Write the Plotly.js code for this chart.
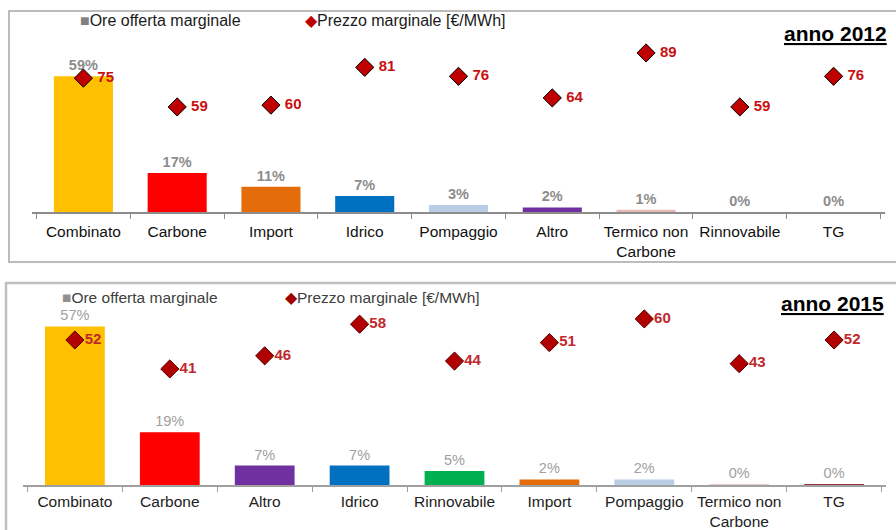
<!DOCTYPE html>
<html>
<head>
<meta charset="utf-8">
<script src="https://cdn.plot.ly/plotly-3.0.1.min.js"></script>
<style>html,body{margin:0;padding:0;background:#fff;}#chart{width:896px;height:530px;}</style>
</head>
<body>
<div id="chart"></div>
<script>
// ---- data ----
const categories2012 = ['Combinato','Carbone','Import','Idrico','Pompaggio','Altro','Termico non<br>Carbone','Rinnovabile','TG'];
const ore2012 = [59, 17, 11, 7, 3, 2, 1, 0, 0];
const prezzo2012 = [75, 59, 60, 81, 76, 64, 89, 59, 76];
const colors2012 = ['#FFC000','#FF0000','#E46C0A','#0070C0','#B9CDE5','#7030A0','#E6B9B8','#00B050','#953735'];

const categories2015 = ['Combinato','Carbone','Altro','Idrico','Rinnovabile','Import','Pompaggio','Termico non<br>Carbone','TG'];
const ore2015 = [57, 19, 7, 7, 5, 2, 2, 0.3, 0.4];
const prezzo2015 = [52, 41, 46, 58, 44, 51, 60, 43, 52];
const colors2015 = ['#FFC000','#FF0000','#7030A0','#0070C0','#00B050','#E46C0A','#B9CDE5','#E6B9B8','#953735'];

const legendBar = 'Ore offerta marginale';
const legendPrice = 'Prezzo marginale [€/MWh]';
const titles = ['anno 2012', 'anno 2015'];

// ---- layout helpers ----
const W = 896, H = 530;
const px = x => x / W;
const py = y => 1 - y / H;
const FONT = 'Liberation Sans, Arial, sans-serif';

const pctText = arr => arr.map(v => Math.round(v) + '%');

const traces = [
  {
    type: 'bar', x: categories2012, y: ore2012, xaxis: 'x', yaxis: 'y',
    marker: { color: colors2012 },
    text: pctText(ore2012), textposition: 'outside', cliponaxis: false, constraintext: 'none',
    textfont: { family: FONT, size: 14.5, color: '#8C8C8C', weight: 'bold' },
    showlegend: false, hoverinfo: 'skip'
  },
  {
    type: 'scatter', mode: 'markers+text', x: categories2012, y: prezzo2012, xaxis: 'x', yaxis: 'y2',
    marker: { symbol: 'diamond', size: 14, color: '#C00000', line: { color: '#000', width: 1 } },
    text: prezzo2012.map(v => '\u00a0' + v), textposition: 'middle right', cliponaxis: false,
    textfont: { family: FONT, size: 15, color: '#C81010', weight: 'bold' },
    showlegend: false, hoverinfo: 'skip'
  },
  {
    type: 'bar', x: categories2015, y: ore2015, xaxis: 'x2', yaxis: 'y3',
    marker: { color: colors2015 },
    text: pctText(ore2015), textposition: 'outside', cliponaxis: false, constraintext: 'none',
    textfont: { family: FONT, size: 14.5, color: '#A0A0A0' },
    showlegend: false, hoverinfo: 'skip'
  },
  {
    type: 'scatter', mode: 'markers+text', x: categories2015, y: prezzo2015, xaxis: 'x2', yaxis: 'y4',
    marker: { symbol: 'diamond', size: 14, color: '#B00000', line: { color: '#5A0000', width: 1 } },
    text: prezzo2015.map(v => String(v)), textposition: 'middle right', cliponaxis: false,
    textfont: { family: FONT, size: 15, color: '#C0282D', weight: 'bold' },
    showlegend: false, hoverinfo: 'skip'
  }
];

const xCommon = {
  type: 'category', tickson: 'boundaries', ticks: 'outside', ticklen: 5, tickwidth: 1,
  showline: true, linewidth: 2, showgrid: false, zeroline: false, fixedrange: true
};
const hiddenY = { visible: false, showgrid: false, zeroline: false, fixedrange: true };

const layout = {
  width: W, height: H,
  margin: { l: 0, r: 0, t: 0, b: 0 },
  paper_bgcolor: '#fff', plot_bgcolor: 'rgba(0,0,0,0)',
  showlegend: false, barmode: 'overlay', bargap: 0.37,
  font: { family: FONT },
  xaxis: Object.assign({}, xCommon, {
    domain: [px(32), px(885)], anchor: 'y', ticklabelstandoff: 4,
    linecolor: '#8C8C8C', tickcolor: '#8C8C8C',
    tickfont: { family: FONT, size: 15.5, color: '#111' }
  }),
  yaxis: Object.assign({}, hiddenY, { domain: [py(212), py(40)], range: [0, 74.8], anchor: 'x' }),
  yaxis2: Object.assign({}, hiddenY, { overlaying: 'y', range: [0.6, 96.2], anchor: 'x' }),
  xaxis2: Object.assign({}, xCommon, {
    domain: [px(23), px(886)], anchor: 'y3', ticklabelstandoff: 1,
    linecolor: '#A0A0A0', tickcolor: '#A0A0A0',
    tickfont: { family: FONT, size: 15.5, color: '#222' }
  }),
  yaxis3: Object.assign({}, hiddenY, { domain: [py(485), py(300)], range: [0, 66.5], anchor: 'x2' }),
  yaxis4: Object.assign({}, hiddenY, { overlaying: 'y3', range: [-3.1, 67.2], anchor: 'x2' }),
  shapes: [
    { type: 'rect', xref: 'paper', yref: 'paper', x0: px(9), x1: px(W + 10), y0: py(262), y1: py(11),
      line: { color: '#A6A6A6', width: 1.5 }, fillcolor: 'rgba(0,0,0,0)', layer: 'below' },
    { type: 'rect', xref: 'paper', yref: 'paper', x0: px(6), x1: px(W + 10), y0: py(H + 10), y1: py(283),
      line: { color: '#BFBFBF', width: 2.5 }, fillcolor: 'rgba(0,0,0,0)', layer: 'below' }
  ],
  annotations: [
    { xref: 'paper', yref: 'paper', x: px(78), y: py(21), xanchor: 'left', yanchor: 'middle', showarrow: false,
      text: '<span style="color:#808080">■</span>' + legendBar, font: { family: FONT, size: 16, color: '#1a1a1a' } },
    { xref: 'paper', yref: 'paper', x: px(303), y: py(21), xanchor: 'left', yanchor: 'middle', showarrow: false,
      text: '<span style="color:#C00000">◆</span>' + legendPrice, font: { family: FONT, size: 16, color: '#1a1a1a' } },
    { xref: 'paper', yref: 'paper', x: px(889), y: py(34), xanchor: 'right', yanchor: 'middle', showarrow: false,
      text: '<b><u>' + titles[0] + '</u></b>', font: { family: FONT, size: 21, color: '#000' } },
    { xref: 'paper', yref: 'paper', x: px(60), y: py(297), xanchor: 'left', yanchor: 'middle', showarrow: false,
      text: '<span style="color:#909090">■</span>' + legendBar, font: { family: FONT, size: 15.5, color: '#404040' } },
    { xref: 'paper', yref: 'paper', x: px(283), y: py(297), xanchor: 'left', yanchor: 'middle', showarrow: false,
      text: '<span style="color:#A00000">◆</span>' + legendPrice, font: { family: FONT, size: 15.5, color: '#404040' } },
    { xref: 'paper', yref: 'paper', x: px(886), y: py(303), xanchor: 'right', yanchor: 'middle', showarrow: false,
      text: '<b><u>' + titles[1] + '</u></b>', font: { family: FONT, size: 21, color: '#000' } }
  ]
};

Plotly.newPlot('chart', traces, layout, { displayModeBar: false, staticPlot: true });
</script>
</body>
</html>
